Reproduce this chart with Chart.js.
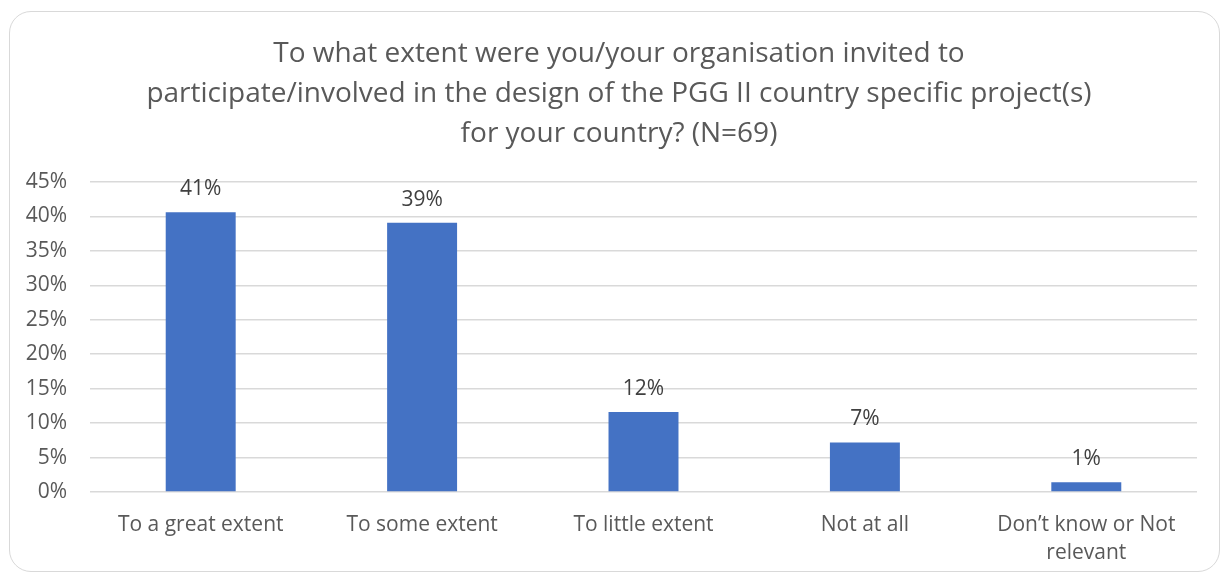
<!doctype html>
<html>

<head>
	<title>PGG II design involvement</title>
	<script src="https://cdn.jsdelivr.net/npm/chart.js@4/dist/chart.umd.min.js"></script>
	<style>
		html, body {
			margin: 0;
			padding: 0;
			background: #fff;
		}
		#frame {
			position: absolute;
			left: 9px;
			top: 11px;
			width: 1209px;
			height: 559px;
			border: 1.5px solid #d9d9d9;
			border-radius: 22px;
		}
		#canvas-holder {
			position: absolute;
			left: 0;
			top: 0;
			width: 1222px;
			height: 574px;
		}
	</style>
</head>

<body>
	<div id="frame"></div>
	<div id="canvas-holder">
		<canvas id="chart-area"></canvas>
	</div>
	<script>
		const categories = [
			'To a great extent',
			'To some extent',
			'To little extent',
			'Not at all',
			['Don\u2019t know or Not', 'relevant']
		];
		// share of respondents, percent (N=69)
		const shares = [40.6, 39.1, 11.6, 7.2, 1.4];
		const titleLines = [
			'To what extent were you/your organisation invited to',
			'participate/involved in the design of the PGG II country specific project(s)',
			'for your country? (N=69)'
		];

		const FONT = '"Open Sans", sans-serif';

		// value labels above each bar
		const barLabels = {
			id: 'barLabels',
			afterDatasetsDraw(chart) {
				const ctx = chart.ctx;
				ctx.save();
				ctx.font = '21px ' + FONT;
				ctx.fillStyle = '#404040';
				ctx.textAlign = 'center';
				ctx.textBaseline = 'middle';
				chart.getDatasetMeta(0).data.forEach((bar, i) => {
					ctx.fillText(Math.round(shares[i]) + '%', bar.x, bar.y - 23);
				});
				ctx.restore();
			}
		};

		// three-line heading
		const heading = {
			id: 'heading',
			afterDraw(chart) {
				const ctx = chart.ctx;
				ctx.save();
				ctx.font = '28px ' + FONT;
				ctx.fillStyle = '#595959';
				ctx.textAlign = 'center';
				ctx.textBaseline = 'middle';
				titleLines.forEach((line, i) => {
					ctx.fillText(line, 619, 54 + i * 40);
				});
				ctx.restore();
			}
		};

		const config = {
			type: 'bar',
			data: {
				labels: categories,
				datasets: [{
					data: shares,
					backgroundColor: '#4472c4',
					categoryPercentage: 1,
					barPercentage: 0.316
				}]
			},
			options: {
				responsive: true,
				maintainAspectRatio: false,
				animation: false,
				layout: {
					padding: { top: 182, right: 25, bottom: 0, left: 0 }
				},
				plugins: {
					legend: { display: false },
					title: { display: false },
					tooltip: { enabled: false }
				},
				scales: {
					x: {
						grid: { display: false, drawTicks: false },
						border: { display: false },
						ticks: {
							color: '#595959',
							font: { family: FONT, size: 21, lineHeight: 1.33 },
							padding: 19,
							maxRotation: 0,
							autoSkip: false
						},
						afterFit(scale) {
							scale.height = 82;
						}
					},
					y: {
						min: 0,
						max: 45,
						grid: { color: '#d9d9d9', lineWidth: 1.5, drawTicks: false },
						border: { display: false },
						ticks: {
							stepSize: 5,
							color: '#595959',
							font: { family: FONT, size: 21 },
							padding: 23,
							callback: (v) => v + '%'
						},
						afterFit(scale) {
							scale.width = 90;
						}
					}
				}
			},
			plugins: [barLabels, heading]
		};

		window.onload = function() {
			const ctx = document.getElementById('chart-area');
			window.myBar = new Chart(ctx, config);
		};
	</script>
</body>

</html>
